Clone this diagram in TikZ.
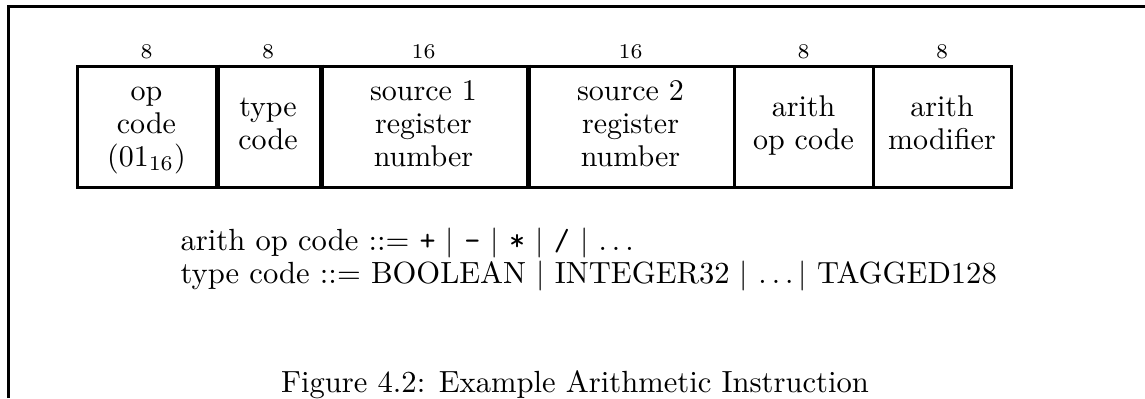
\documentclass[tikz,border=0pt]{standalone}
\begin{document}
\begin{tikzpicture}[x=0.33333pt,y=-0.33333pt,
  field/.style={draw, line width=1pt, inner sep=0pt, minimum height=40.333pt,
    align=center, font=\fontsize{10}{11}\selectfont},
  divider/.style={line width=1.5pt},
  bits/.style={font=\scriptsize, anchor=base, inner sep=0pt},
  textline/.style={anchor=base west, inner sep=0pt, font=\fontsize{10.2}{12}\selectfont},
  frameline/.style={line width=1pt}]
\useasboundingbox (0,0) rectangle (1145,398);
% frame (top and left edges)
\coordinate (fa) at (8,398);
\coordinate (fb) at (8,6);
\coordinate (fc) at (1145,6);
\draw[frameline] (fa) -- (fb) -- (fc);
% instruction fields
\node[field, minimum width=46.333pt] (f1) at (146.5,126.5) {\strut op\\\strut code\\\strut (01$_{16}$)};
\node[field, minimum width=34.667pt] (f2) at (268,126.5) {\strut type\\\strut code};
\node[field, minimum width=69pt] (f3) at (423.5,126.5) {\strut source 1\\\strut register\\\strut number};
\node[field, minimum width=69pt] (f4) at (630.5,126.5) {\strut source 2\\\strut register\\\strut number};
\node[field, minimum width=46.333pt] (f5) at (803.5,126.5) {\strut arith\\\strut op code};
\node[field, minimum width=46pt] (f6) at (942,126.5) {\strut arith\\\strut modifier};
\draw[divider] (f1.north east) -- (f1.south east);
\draw[divider] (f2.north east) -- (f2.south east);
\draw[divider] (f3.north east) -- (f3.south east);
% bit widths
\node[bits] (n1) at (146.5,58) {8};
\node[bits] (n2) at (268,58) {8};
\node[bits] (n3) at (423.5,58) {16};
\node[bits] (n4) at (630.5,58) {16};
\node[bits] (n5) at (803.5,58) {8};
\node[bits] (n6) at (942,58) {8};
% grammar
\node[textline] (g1) at (180,250) {arith op code ::= \texttt{+} $|$ \texttt{-} $|$ \texttt{*} $|$ \texttt{/} $|$ $\ldots$};
\node[textline] (g2) at (180,283) {type code ::= BOOLEAN $|$ INTEGER32 $|$ $\ldots|$ TAGGED128};
% caption
\node[anchor=base, inner sep=0pt, font=\fontsize{10.2}{12}\selectfont] (cap) at (575,392) {Figure 4.2: Example Arithmetic Instruction};
\end{tikzpicture}
\end{document}
